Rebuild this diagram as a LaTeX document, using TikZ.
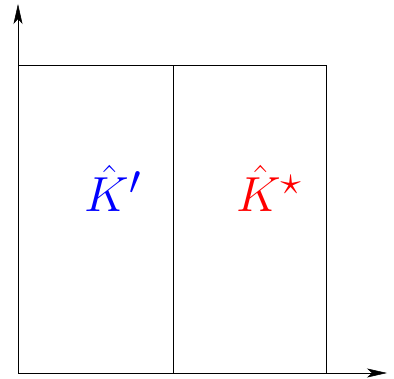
\documentclass[tikz,border=0pt]{standalone}
\usepackage{graphicx}
\usetikzlibrary{arrows.meta}
\begin{document}
\begin{tikzpicture}[x=1pt,y=1pt,
  axis/.style={line width=0.5pt,-{Stealth[length=20pt,width=9pt,inset=5pt]}},
  box/.style={line width=0.5pt},
  lbl/.style={anchor=base,inner sep=0pt,font=\fontsize{24.88}{30}\selectfont}]
\useasboundingbox (0,0) rectangle (394,378);
\coordinate (O) at (18,5);
\coordinate (Y) at (18,374);
\coordinate (X) at (387,5);
\coordinate (TR) at (326,313);
\coordinate (MB) at (173,5);
\coordinate (MT) at (173,313);
\draw[axis] (O) -- (Y);
\draw[axis] (O) -- (X);
\draw[box] (O) rectangle (TR);
\draw[box] (MB) -- (MT);
\node[lbl,text=blue] (kp) at (113,166) {\scalebox{1.98}{$\hat{K}'$}};
\node[lbl,text=red] (ks) at (269,166) {\scalebox{1.98}{$\hat{K}^\star$}};
\end{tikzpicture}
\end{document}
